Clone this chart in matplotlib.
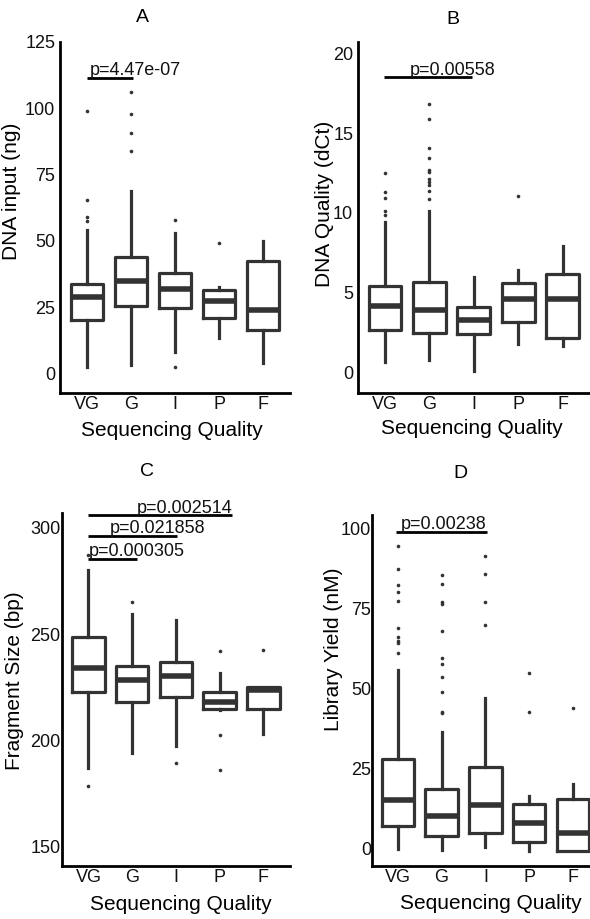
import matplotlib
matplotlib.use('Agg')
import matplotlib.pyplot as plt

plt.rcParams['font.family'] = ['Liberation Sans', 'DejaVu Sans']

W, H = 590, 919
fig = plt.figure(figsize=(W / 100, H / 100), dpi=100)

categories = ['VG', 'G', 'I', 'P', 'F']
positions = [1, 2, 3, 4, 5]

# ---- Panel A: DNA input (ng)
A_med = [29, 34.7, 32, 27.3, 23.8]
A_q1 = [20, 25.3, 24.5, 20.8, 16.2]
A_q3 = [33.6, 43.8, 37.8, 31.3, 42.3]
A_lo = [2.5, 3, 8, 13.5, 3.8]
A_hi = [54, 68.7, 52.8, 32.5, 50]
A_fliers = [[99, 65.5, 59, 57.5], [106, 98, 90.6, 84], [57.7, 2.3], [49], []]
A_ticks = [0, 25, 50, 75, 100, 125]
A_sig = [(1.0, 2.05, 111.6, 'p=4.47e-07', 2.09)]

# ---- Panel B: DNA Quality (dCt)
B_med = [4.2, 3.95, 3.3, 4.6, 4.6]
B_q1 = [2.65, 2.5, 2.4, 3.2, 2.15]
B_q3 = [5.45, 5.7, 4.1, 5.6, 6.2]
B_lo = [0.7, 0.8, 0.1, 1.8, 1.7]
B_hi = [9.45, 10.1, 6.0, 6.4, 7.9]
B_fliers = [[12.5, 11.3, 10.95, 10.1, 9.9],
            [16.85, 15.9, 14.05, 13.45, 12.7, 12.55, 12.15, 11.95, 11.75, 11.35, 10.9],
            [], [11.05], []]
B_ticks = [0, 5, 10, 15, 20]
B_sig = [(0.98, 2.96, 18.5, 'p=0.00558', 2.53)]

# ---- Panel C: Fragment Size (bp)
C_med = [234, 228.2, 230.1, 218.0, 223.8]
C_q1 = [222.8, 217.9, 220.2, 214.7, 214.7]
C_q3 = [248.7, 235.2, 236.7, 222.7, 225.1]
C_lo = [187, 194, 197.2, 214.1, 203.1]
C_hi = [280, 259.6, 256.8, 231.7, 225.1]
C_fliers = [[178.6, 287.4], [265], [189.6], [241.9, 202.6, 186], [242.7]]
C_ticks = [150, 200, 250, 300]
C_sig = [(0.99, 2.11, 285.4, 'p=0.000305', 2.10),
         (0.99, 3.03, 296.4, 'p=0.021858', 2.57),
         (0.99, 4.28, 306.0, 'p=0.002514', 3.19)]

# ---- Panel D: Library Yield (nM)
D_med = [15.1, 10.1, 13.5, 7.8, 4.7]
D_q1 = [7.0, 4.0, 4.9, 2.1, -0.75]
D_q3 = [27.8, 18.5, 25.5, 13.8, 15.4]
D_lo = [-0.3, -0.5, 0.3, -0.75, -0.75]
D_hi = [55.9, 36.5, 46.9, 16.3, 20.1]
D_fliers = [[94.5, 87.2, 82.3, 80, 77.4, 68.75, 66.1, 64.9, 64.3, 61.1],
            [85.6, 82.6, 77.1, 76.4, 68, 59.6, 57.6, 53.6, 49, 42.7, 42.2],
            [91.5, 85.9, 76.9, 69.8], [54.7, 42.5], [44]]
D_ticks = [0, 25, 50, 75, 100]
D_sig = [(0.97, 3.03, 99.0, 'p=0.00238', 2.05)]

BOXC = '#333333'


def px_axes(l, t, r, b):
    return fig.add_axes([l / W, 1 - b / H, (r - l) / W, (b - t) / H])


def ftext(x, y, s, **kw):
    fig.text(x / W, 1 - y / H, s, ha='center', va='center', **kw)


def panel(rect, med, q1, q3, lo, hi, fliers, ylim, xlim, yticks, sig, ypad):
    ax = px_axes(*rect)
    stats = []
    for i in range(len(categories)):
        stats.append(dict(med=med[i], q1=q1[i], q3=q3[i], whislo=lo[i],
                          whishi=hi[i], fliers=fliers[i]))
    ax.bxp(stats, positions=positions, widths=0.74, showcaps=False,
           boxprops=dict(color=BOXC, linewidth=2.3),
           whiskerprops=dict(color=BOXC, linewidth=2.3),
           medianprops=dict(color=BOXC, linewidth=4.0, solid_capstyle='butt'),
           flierprops=dict(marker='o', markersize=2.6, markerfacecolor=BOXC,
                           markeredgecolor=BOXC, markeredgewidth=0))
    ax.set_xlim(*xlim)
    ax.set_ylim(*ylim)
    ax.set_xticks(positions)
    ax.set_xticklabels(categories)
    ax.set_yticks(yticks)
    ax.set_yticklabels([str(t) for t in yticks])
    ax.tick_params(axis='both', length=0, labelsize=13, colors='#111111')
    ax.tick_params(axis='x', pad=2.5)
    ax.tick_params(axis='y', pad=ypad)
    for s in ['top', 'right']:
        ax.spines[s].set_visible(False)
    for s in ['left', 'bottom']:
        ax.spines[s].set_linewidth(2.0)
        ax.spines[s].set_color('black')
    ax.set_facecolor('white')
    for (x0, x1, y, txt, tx) in sig:
        ax.plot([x0, x1], [y, y], color='black', linewidth=2.0,
                solid_capstyle='butt', clip_on=False)
        ax.annotate(txt, xy=(tx, y), xytext=(0, 1.8), textcoords='offset points',
                    ha='center', va='baseline', fontsize=13, color='#111111',
                    annotation_clip=False)
    return ax


panel((60, 42, 290, 393), A_med, A_q1, A_q3, A_lo, A_hi, A_fliers,
      (-7.4, 125), (0.386, 5.61), A_ticks, A_sig, 3.5)
panel((358, 42, 590, 393), B_med, B_q1, B_q3, B_lo, B_hi, B_fliers,
      (-1.27, 20.7), (0.393, 5.61), B_ticks, B_sig, 3.5)
panel((62, 513, 290, 866), C_med, C_q1, C_q3, C_lo, C_hi, C_fliers,
      (140.9, 307), (0.394, 5.61), C_ticks, C_sig, 1.0)
panel((372, 515, 602, 866), D_med, D_q1, D_q3, D_lo, D_hi, D_fliers,
      (-5.5, 104.2), (0.413, 5.66), D_ticks, D_sig, 0.5)

# titles
ftext(142.7, 18, 'A', fontsize=14)
ftext(452.7, 20, 'B', fontsize=14)
ftext(146.7, 472, 'C', fontsize=14)
ftext(460.7, 473, 'D', fontsize=14)

# x labels
ftext(172, 430, 'Sequencing Quality', fontsize=15)
ftext(471.7, 428.5, 'Sequencing Quality', fontsize=15)
ftext(180.8, 905, 'Sequencing Quality', fontsize=15)
ftext(490.8, 903.3, 'Sequencing Quality', fontsize=15)

# y labels
ftext(11.7, 191, 'DNA input (ng)', fontsize=15, rotation=90)
ftext(325, 204, 'DNA Quality (dCt)', fontsize=15, rotation=90)
ftext(15, 681, 'Fragment Size (bp)', fontsize=15, rotation=90)
ftext(333.3, 649, 'Library Yield (nM)', fontsize=15, rotation=90)

fig.savefig('out.png', dpi=100, facecolor='white')
